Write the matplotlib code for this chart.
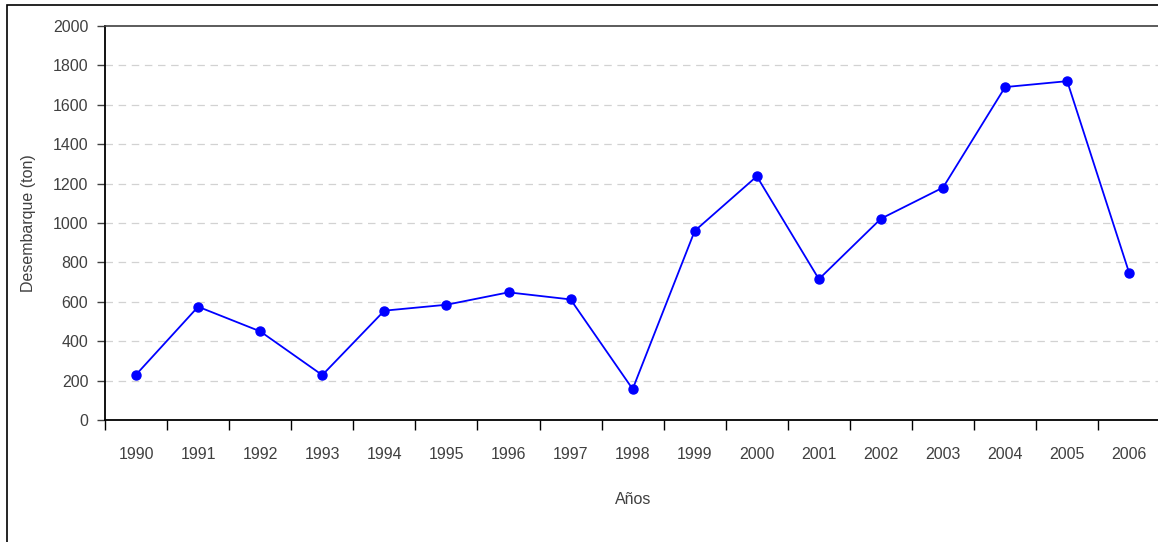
import matplotlib
matplotlib.use("Agg")
import matplotlib.pyplot as plt
from matplotlib.patches import Rectangle

years = ["1990", "1991", "1992", "1993", "1994", "1995", "1996", "1997", "1998",
         "1999", "2000", "2001", "2002", "2003", "2004", "2005", "2006"]
desembarque = [230, 575, 450, 228, 555, 585, 648, 612, 157,
               960, 1237, 715, 1022, 1180, 1690, 1720, 745]
yticks = [0, 200, 400, 600, 800, 1000, 1200, 1400, 1600, 1800, 2000]

plt.rcParams['font.family'] = ['Liberation Sans Narrow', 'Liberation Sans', 'DejaVu Sans']
txt = '#404040'

fig = plt.figure(figsize=(11.58, 5.42), dpi=100)
# outer frame
fig.patches.append(Rectangle((7/1158, -0.1), 1.2, 1 - 5/542 + 0.1, transform=fig.transFigure,
                             fill=False, edgecolor='black', linewidth=1.2))
ax = fig.add_axes([105/1158, 122/542, 1 - 105/1158 + 0.002, (420 - 26)/542])

x = list(range(len(years)))
ax.plot(x, desembarque, color='#0000ff', linewidth=1.3, marker='o', markersize=6.5)

ax.set_xlim(-0.5, len(years) - 0.5)
ax.set_ylim(0, 2000)
ax.set_yticks(yticks)
ax.set_yticklabels([str(v) for v in yticks])
ax.set_xticks([i - 0.5 for i in range(len(years))])
ax.set_xticklabels([])
ax.set_xticks(x, minor=True)
ax.set_xticklabels(years, minor=True)
ax.tick_params(axis='x', which='minor', length=0, pad=19.5, labelsize=11.5, labelcolor=txt)
ax.tick_params(axis='x', which='major', length=7, direction='out', width=1, color='black')
ax.tick_params(axis='y', length=6, direction='out', width=1, color='#404040', labelsize=11.5,
               labelcolor=txt, pad=6)

for v in yticks[1:-1]:
    ax.axhline(v, color='#d2d2d2', linewidth=0.9, linestyle=(0, (6, 4.5)), zorder=0)

ax.spines['right'].set_visible(False)
ax.spines['top'].set_color('#404040')
ax.spines['top'].set_linewidth(1.2)
ax.spines['left'].set_color('black')
ax.spines['left'].set_linewidth(1.3)
ax.spines['bottom'].set_color('black')
ax.spines['bottom'].set_linewidth(1.3)

ax.set_ylabel('Desembarque (ton)', fontsize=11.5, color=txt, labelpad=12)
ax.set_xlabel('Años', fontsize=11.5, color=txt, labelpad=21.5)

fig.savefig('out.png', dpi=100)
